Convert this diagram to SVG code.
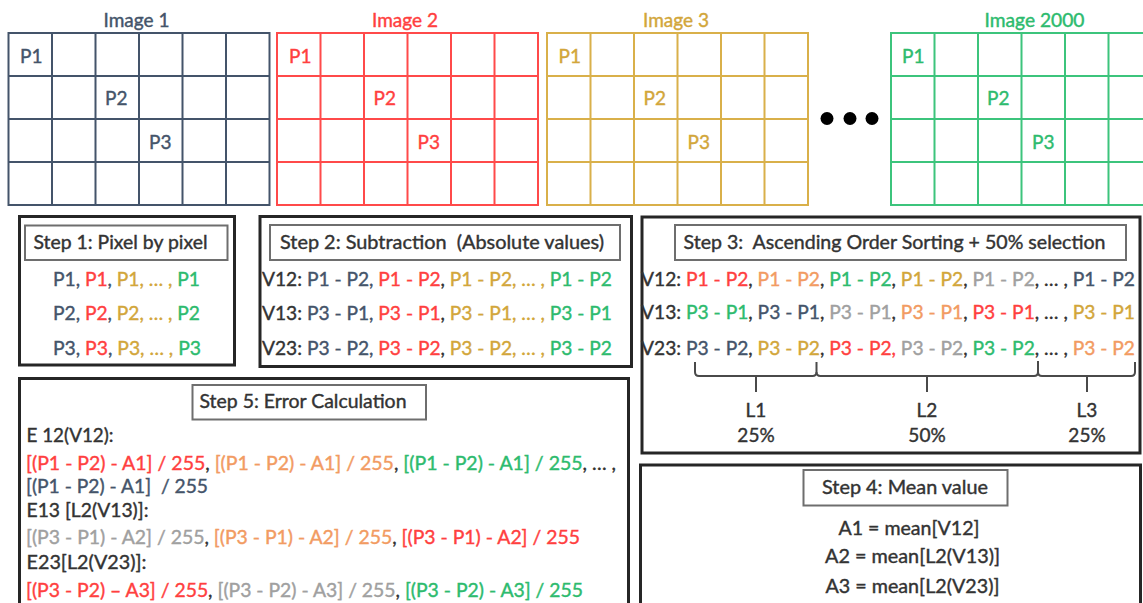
<svg xmlns="http://www.w3.org/2000/svg" width="1143" height="603" viewBox="0 0 1143 603">
<style>
text{font-family:Lato,"Liberation Sans",sans-serif;font-size:19px;stroke-width:0.4px;}
.b{fill:#44546A;stroke:#44546A}.r{fill:#FF3F3F;stroke:#FF3F3F}.g{fill:#D2A63A;stroke:#D2A63A}.gr{fill:#2DBB6E;stroke:#2DBB6E}.o{fill:#F29B62;stroke:#F29B62}.gy{fill:#A0A0A0;stroke:#A0A0A0}.d{fill:#333333;stroke:#333333}
.gb{stroke:#44546A}.grd{stroke:#FF4A4A}.gg{stroke:#D9B04A}.ggr{stroke:#3CC47C}
.grid{fill:none;stroke-width:2}
.outer{fill:#fff;stroke:#262626;stroke-width:3}
.tbox{fill:#fff;stroke:#6e6e6e;stroke-width:2}
.brace{fill:none;stroke:#4a4a4a;stroke-width:2}
</style>
<defs>
<g id="grid" class="grid">
<rect x="0" y="33" width="261" height="172"/>
<path d="M43.5,33V205M87,33V205M130.5,33V205M174,33V205M217.5,33V205M0,76H261M0,119H261M0,162H261"/>
</g>
</defs>
<rect width="1143" height="603" fill="#fff"/>

<g id="image1">
<use href="#grid" x="8.5" class="gb"/>
<text x="103.5" y="27" textLength="66" lengthAdjust="spacingAndGlyphs" class="b">Image 1</text>
<text x="20" y="63" class="b">P1</text>
<text x="105" y="104.5" class="b">P2</text>
<text x="149" y="149" class="b">P3</text>
</g>
<g id="image2">
<use href="#grid" x="277" class="grd"/>
<text x="372" y="27" textLength="66" lengthAdjust="spacingAndGlyphs" class="r">Image 2</text>
<text x="289" y="63" class="r">P1</text>
<text x="373.5" y="104.5" class="r">P2</text>
<text x="417.5" y="149" class="r">P3</text>
</g>
<g id="image3">
<use href="#grid" x="547" class="gg"/>
<text x="643" y="27" textLength="66" lengthAdjust="spacingAndGlyphs" class="g">Image 3</text>
<text x="558.5" y="63" class="g">P1</text>
<text x="643.5" y="104.5" class="g">P2</text>
<text x="687.5" y="149" class="g">P3</text>
</g>
<g id="dots">
<circle cx="827" cy="118.5" r="6.5" fill="#000"/>
<circle cx="850" cy="118.5" r="6.5" fill="#000"/>
<circle cx="872" cy="118.5" r="6.5" fill="#000"/>
</g>
<g id="image2000">
<use href="#grid" x="891" class="ggr"/>
<text x="984.5" y="27" textLength="100" lengthAdjust="spacingAndGlyphs" class="gr">Image 2000</text>
<text x="902" y="63" class="gr">P1</text>
<text x="987" y="104.5" class="gr">P2</text>
<text x="1032" y="149" class="gr">P3</text>
</g>

<g id="step1">
<rect class="outer" x="19.5" y="216.5" width="215" height="148.5"/>
<rect class="tbox" x="25" y="225.5" width="202.5" height="34.5"/>
<text x="33.5" y="249" textLength="174" lengthAdjust="spacingAndGlyphs" class="d">Step 1: Pixel by pixel</text>
<text x="53" y="286" textLength="147" lengthAdjust="spacingAndGlyphs"><tspan class="b">P1, </tspan><tspan class="r">P1</tspan><tspan class="b">, </tspan><tspan class="g">P1, … , </tspan><tspan class="gr">P1</tspan></text>
<text x="53" y="320" textLength="147" lengthAdjust="spacingAndGlyphs"><tspan class="b">P2, </tspan><tspan class="r">P2</tspan><tspan class="b">, </tspan><tspan class="g">P2, … , </tspan><tspan class="gr">P2</tspan></text>
<text x="53" y="354.5" textLength="148" lengthAdjust="spacingAndGlyphs"><tspan class="b">P3, </tspan><tspan class="r">P3</tspan><tspan class="b">, </tspan><tspan class="g">P3, … , </tspan><tspan class="gr">P3</tspan></text>
</g>

<g id="step2">
<rect class="outer" x="260" y="216.5" width="371.5" height="150"/>
<rect class="tbox" x="270" y="225" width="350" height="35"/>
<text x="280" y="249" textLength="324" lengthAdjust="spacingAndGlyphs" class="d" xml:space="preserve">Step 2: Subtraction  (Absolute values)</text>
<text x="262" y="286" textLength="350" lengthAdjust="spacingAndGlyphs"><tspan class="d">V12: </tspan><tspan class="b">P1 - P2, </tspan><tspan class="r">P1 - P2</tspan><tspan class="d">, </tspan><tspan class="g">P1 - P2, … , </tspan><tspan class="gr">P1 - P2</tspan></text>
<text x="262" y="319.5" textLength="350" lengthAdjust="spacingAndGlyphs"><tspan class="d">V13: </tspan><tspan class="b">P3 - P1, </tspan><tspan class="r">P3 - P1</tspan><tspan class="d">, </tspan><tspan class="g">P3 - P1, … , </tspan><tspan class="gr">P3 - P1</tspan></text>
<text x="262" y="354.5" textLength="350" lengthAdjust="spacingAndGlyphs"><tspan class="d">V23: </tspan><tspan class="b">P3 - P2, </tspan><tspan class="r">P3 - P2</tspan><tspan class="d">, </tspan><tspan class="g">P3 - P2, … , </tspan><tspan class="gr">P3 - P2</tspan></text>
</g>

<g id="step3">
<rect class="outer" x="642" y="217" width="498" height="236"/>
<rect class="tbox" x="675" y="225" width="451" height="35"/>
<text x="683.5" y="249" textLength="422" lengthAdjust="spacingAndGlyphs" class="d" xml:space="preserve">Step 3:  Ascending Order Sorting + 50% selection</text>
<text x="641" y="285.5" textLength="494" lengthAdjust="spacingAndGlyphs"><tspan class="d">V12: </tspan><tspan class="r">P1 - P2</tspan><tspan class="d">, </tspan><tspan class="o">P1 - P2</tspan><tspan class="d">, </tspan><tspan class="gr">P1 - P2</tspan><tspan class="d">, </tspan><tspan class="g">P1 - P2</tspan><tspan class="d">, </tspan><tspan class="gy">P1 - P2</tspan><tspan class="d">, … , </tspan><tspan class="b">P1 - P2</tspan></text>
<text x="641" y="319" textLength="494" lengthAdjust="spacingAndGlyphs"><tspan class="d">V13: </tspan><tspan class="gr">P3 - P1</tspan><tspan class="d">, </tspan><tspan class="b">P3 - P1</tspan><tspan class="d">, </tspan><tspan class="gy">P3 - P1</tspan><tspan class="d">, </tspan><tspan class="o">P3 - P1</tspan><tspan class="d">, </tspan><tspan class="r">P3 - P1</tspan><tspan class="d">, … , </tspan><tspan class="g">P3 - P1</tspan></text>
<text x="641" y="354.5" textLength="494" lengthAdjust="spacingAndGlyphs"><tspan class="d">V23: </tspan><tspan class="b">P3 - P2</tspan><tspan class="d">, </tspan><tspan class="g">P3 - P2</tspan><tspan class="d">, </tspan><tspan class="r">P3 - P2,</tspan><tspan class="d"> </tspan><tspan class="gy">P3 - P2</tspan><tspan class="d">, </tspan><tspan class="gr">P3 - P2</tspan><tspan class="d">, … , </tspan><tspan class="o">P3 - P2</tspan></text>
<text x="756" y="417" text-anchor="middle" class="d">L1</text>
<text x="756" y="442" text-anchor="middle" class="d">25%</text>
<text x="927" y="417" text-anchor="middle" class="d">L2</text>
<text x="927" y="442" text-anchor="middle" class="d">50%</text>
<text x="1087" y="417" text-anchor="middle" class="d">L3</text>
<text x="1087" y="442" text-anchor="middle" class="d">25%</text>
</g>

<g id="connectors">
<path class="brace" d="M695,362V372Q695,376 699,376H812.5Q816.5,376 816.5,372V362M756,376V392"/>
<path class="brace" d="M816.5,372Q816.5,376 820.5,376H1034Q1038,376 1038,372V361M927,376V392"/>
<path class="brace" d="M1038,372Q1038,376 1042,376H1131Q1135,376 1135,372V362M1087,376V392"/>
</g>

<g id="step5">
<rect class="outer" x="19.5" y="378.5" width="609" height="240"/>
<rect class="tbox" x="192.5" y="385" width="233.5" height="34.5"/>
<text x="199.5" y="408" textLength="207" lengthAdjust="spacingAndGlyphs" class="d">Step 5: Error Calculation</text>
<text x="26.5" y="441.5" textLength="87" lengthAdjust="spacingAndGlyphs" class="d">E 12(V12):</text>
<text x="26" y="470" textLength="590" lengthAdjust="spacingAndGlyphs"><tspan class="r">[(P1 - P2) - A1] / 255</tspan><tspan class="d">, </tspan><tspan class="o">[(P1 - P2) - A1] / 255</tspan><tspan class="d">, </tspan><tspan class="gr">[(P1 - P2) - A1] / 255</tspan><tspan class="d">, … ,</tspan></text>
<text x="26" y="492.5" textLength="182" lengthAdjust="spacingAndGlyphs" class="b" xml:space="preserve">[(P1 - P2) - A1]  / 255</text>
<text x="26.5" y="517" textLength="122" lengthAdjust="spacingAndGlyphs" class="d">E13 [L2(V13)]:</text>
<text x="26" y="544" textLength="554" lengthAdjust="spacingAndGlyphs"><tspan class="gy">[(P3 - P1) - A2] / 255</tspan><tspan class="d">, </tspan><tspan class="o">[(P3 - P1) - A2] / 255</tspan><tspan class="d">, </tspan><tspan class="r">[(P3 - P1) - A2] / 255</tspan></text>
<text x="26.5" y="568.5" textLength="120" lengthAdjust="spacingAndGlyphs" class="d">E23[L2(V23)]:</text>
<text x="26" y="596.5" textLength="557" lengthAdjust="spacingAndGlyphs"><tspan class="r">[(P3 - P2) – A3] / 255</tspan><tspan class="d">, </tspan><tspan class="gy">[(P3 - P2) - A3] / 255</tspan><tspan class="d">, </tspan><tspan class="gr">[(P3 - P2) - A3] / 255</tspan></text>
</g>

<g id="step4">
<rect class="outer" x="640.5" y="465" width="500" height="160"/>
<rect class="tbox" x="803.5" y="470" width="204" height="35.5"/>
<text x="822" y="494" textLength="166" lengthAdjust="spacingAndGlyphs" class="d">Step 4: Mean value</text>
<text x="838.5" y="535" textLength="141" lengthAdjust="spacingAndGlyphs" class="d">A1 = mean[V12]</text>
<text x="825" y="563" textLength="175" lengthAdjust="spacingAndGlyphs" class="d">A2 = mean[L2(V13)]</text>
<text x="825.5" y="593" textLength="174" lengthAdjust="spacingAndGlyphs" class="d">A3 = mean[L2(V23)]</text>
</g>
</svg>
